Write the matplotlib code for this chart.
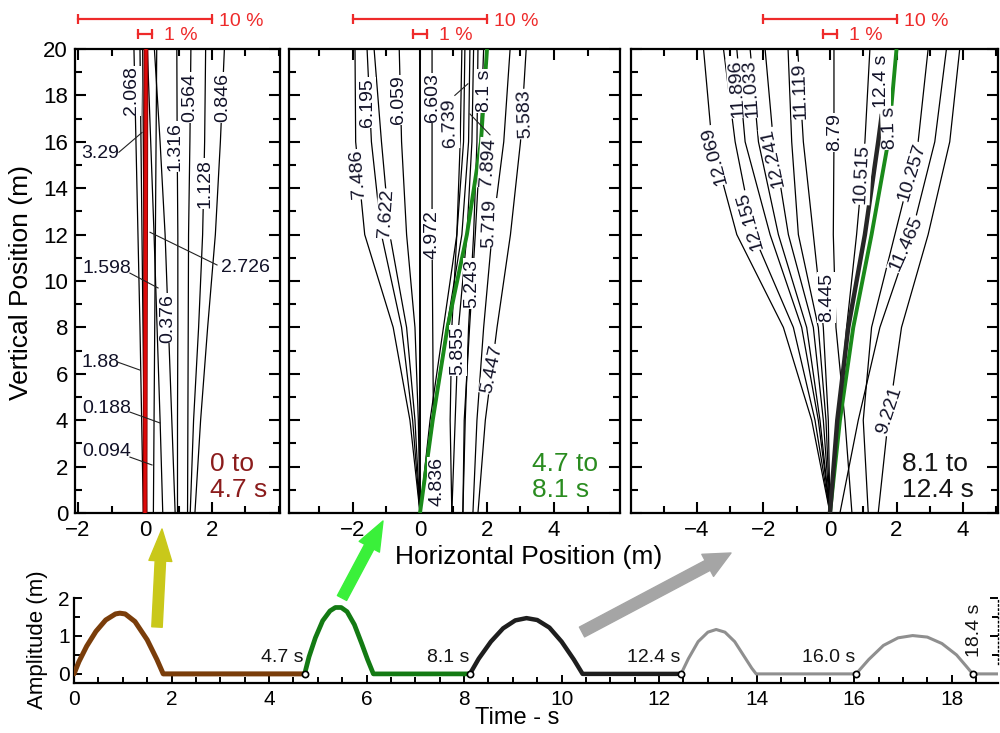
import matplotlib
matplotlib.use('Agg')
import matplotlib.pyplot as plt
from matplotlib.ticker import MultipleLocator, FixedLocator

plt.rcParams['font.family'] = ['Liberation Sans', 'DejaVu Sans']

# ---------------- data ----------------
Y_LEVELS = [0, 4, 8, 12, 16, 20]

# panel 1 (0 to 4.7 s): x positions of each trajectory at Y_LEVELS
p1_lines = [
    [-0.05, -0.10, -0.15, -0.21, -0.27, -0.33],
    [0.00, -0.03, -0.06, -0.09, -0.12, -0.15],
    [0.05, 0.03, 0.00, -0.03, -0.05, -0.07],
    [0.25, 0.27, 0.29, 0.31, 0.33, 0.35],
    [0.53, 0.45, 0.36, 0.27, 0.17, 0.07],
    [0.90, 0.80, 0.70, 0.60, 0.45, 0.28],
    [0.97, 0.97, 0.98, 0.98, 0.96, 0.95],
    [1.27, 1.28, 1.29, 1.30, 1.34, 1.37],
    [1.35, 1.45, 1.60, 1.72, 1.78, 1.81],
    [1.49, 1.66, 1.87, 2.10, 2.25, 2.37],
]
p1_red = [0.00, 0.006, 0.012, 0.018, 0.024, 0.03]
p1_labels = [("2.068", -0.40, 18.2, 90), ("1.316", 0.90, 15.8, 90),
             ("0.564", 1.34, 17.9, 90), ("1.128", 1.80, 14.2, 90),
             ("0.846", 2.33, 17.9, 90), ("0.376", 0.69, 8.4, 90),
             ("3.29", -1.34, 15.5, 0), ("2.726", 2.99, 10.6, 0),
             ("1.598", -1.13, 10.56, 0), ("1.88", -1.34, 6.5, 0),
             ("0.188", -1.13, 4.5, 0), ("0.094", -1.13, 2.63, 0)]
p1_leaders = [((-0.78, 15.55), (-0.09, 16.4)), ((0.15, 12.1), (2.15, 10.69)),
              ((-0.45, 10.34), (0.39, 9.7)), ((-0.81, 6.5), (-0.15, 6.16)),
              ((-0.45, 4.35), (0.45, 3.88)), ((-0.45, 2.41), (0.21, 2.07))]

# panel 2 (4.7 to 8.1 s)
p2_lines = [
    [0.00, -0.30, -0.80, -1.65, -1.92, -1.94],
    [0.00, -0.22, -0.55, -1.15, -1.45, -1.58],
    [0.00, -0.15, -0.40, -0.90, -1.15, -1.37],
    [0.00, -0.05, -0.15, -0.40, -0.55, -0.62],
    [0.00, 0.00, 0.00, 0.00, 0.00, 0.00],
    [0.00, 0.40, 0.38, 0.36, 0.36, 0.36],
    [0.95, 0.90, 0.95, 1.10, 1.20, 1.25],
    [0.00, 0.30, 0.70, 1.10, 1.30, 1.34],
    [0.00, 0.35, 0.80, 1.25, 1.45, 1.49],
    [1.28, 1.35, 1.45, 1.60, 1.70, 1.73],
    [1.58, 1.70, 1.90, 2.15, 2.50, 2.69],
    [1.28, 1.32, 1.48, 1.65, 1.80, 1.90],
    [1.73, 1.95, 2.30, 2.70, 3.00, 3.17],
    [0.95, 1.05, 1.15, 1.40, 1.55, 1.60],
]
p2_green = [0.00, 0.38, 0.82, 1.40, 1.82, 2.00]
p2_labels = [("6.195", -1.58, 17.7, 90), ("7.486", -1.86, 14.6, 94),
             ("7.622", -1.02, 12.9, 86), ("6.059", -0.64, 17.8, 90),
             ("6.603", 0.36, 17.9, 90), ("4.972", 0.36, 12.0, 90),
             ("6.739", 0.90, 16.8, 92), ("7.894", 2.03, 15.1, 86),
             ("5.719", 2.09, 12.5, 88), ("5.583", 3.13, 17.2, 92),
             ("5.243", 1.55, 9.9, 90), ("5.855", 1.13, 7.0, 90),
             ("5.447", 2.15, 6.2, 78), ("4.836", 0.50, 1.34, 90)]
p2_green_label = ("8.1 s", 1.94, 18.2, 90)
p2_leaders = [((1.04, 18.0), (1.43, 18.5)), ((2.09, 16.3), (1.49, 17.2))]

# panel 3 (8.1 to 12.4 s)
p3_lines = [
    [0.00, -0.55, -1.40, -2.80, -3.55, -3.80],
    [0.00, -0.45, -1.10, -2.30, -2.85, -3.20],
    [0.00, -0.35, -0.85, -1.80, -2.55, -2.80],
    [0.00, -0.30, -0.70, -1.55, -2.15, -2.40],
    [0.00, -0.20, -0.50, -1.25, -1.70, -1.95],
    [0.00, -0.12, -0.35, -0.95, -1.15, -1.26],
    [0.00, -0.05, -0.20, -0.50, -0.80, -0.97],
    [0.66, 0.45, 0.18, 0.10, 0.12, 0.12],
    [0.00, 0.25, 0.50, 0.80, 1.05, 1.20],
    [1.15, 1.00, 1.25, 1.95, 2.65, 2.95],
    [0.30, 0.85, 1.50, 2.45, 3.15, 3.50],
    [1.45, 1.75, 2.15, 2.95, 3.60, 3.90],
]
p3_black_y = [0, 4, 8, 12, 16, 17.2]
p3_black = [0.00, 0.22, 0.55, 1.05, 1.45, 1.56]
p3_green = [0.00, 0.30, 0.70, 1.25, 1.75, 2.00]
p3_labels = [("12.069", -3.48, 15.4, 105), ("11.896", -2.80, 18.3, 94),
             ("11.033", -2.37, 18.3, 94), ("12.155", -2.40, 12.6, 106),
             ("12.241", -1.71, 15.3, 102), ("11.119", -0.90, 18.2, 92),
             ("8.79", 0.15, 16.4, 90), ("10.515", 0.96, 14.6, 87),
             ("12.4 s", 1.56, 18.6, 90), ("10.257", 2.46, 14.7, 73),
             ("11.465", 2.30, 11.6, 66), ("8.445", -0.10, 9.3, 90),
             ("9.221", 1.80, 4.4, 72)]
p3_green_label = ("8.1 s", 1.80, 16.6, 92)

# scale bars (m)
bar_10 = [-2.0, 2.0]
bar_1 = [-0.2, 0.2]

# bottom panel: amplitude vs time
brown_t = [0.0, 0.1, 0.26, 0.45, 0.65, 0.85, 0.94, 1.05, 1.25, 1.5, 1.7, 1.83, 4.73]
brown_a = [0.0, 0.32, 0.73, 1.12, 1.42, 1.58, 1.6, 1.58, 1.38, 0.9, 0.38, 0.0, 0.0]
green_t = [4.73, 4.82, 4.95, 5.1, 5.25, 5.36, 5.48, 5.6, 5.75, 5.9, 6.02, 6.14, 8.12]
green_a = [0.0, 0.45, 0.95, 1.4, 1.66, 1.75, 1.75, 1.64, 1.3, 0.8, 0.38, 0.0, 0.0]
black_t = [8.12, 8.3, 8.55, 8.8, 9.05, 9.28, 9.5, 9.75, 10.0, 10.25, 10.43, 12.45]
black_a = [0.0, 0.4, 0.85, 1.2, 1.41, 1.47, 1.42, 1.22, 0.85, 0.38, 0.0, 0.0]
gray1_t = [12.45, 12.6, 12.8, 13.0, 13.17, 13.35, 13.55, 13.75, 13.9, 13.99, 16.04]
gray1_a = [0.0, 0.4, 0.85, 1.1, 1.17, 1.1, 0.85, 0.45, 0.15, 0.0, 0.0]
gray2_t = [16.04, 16.3, 16.6, 16.9, 17.2, 17.5, 17.8, 18.1, 18.3, 18.43, 18.95]
gray2_a = [0.0, 0.38, 0.75, 0.95, 1.01, 0.97, 0.8, 0.5, 0.2, 0.0, 0.0]
mark_t = [4.73, 8.12, 12.45, 16.04, 18.43]
mark_labels = ["4.7 s", "8.1 s", "12.4 s", "16.0 s", "18.4 s"]

# ---------------- figure ----------------
RED = '#ee2a2a'
LBL = '#121228'
fig = plt.figure(figsize=(10, 7.33), dpi=100)
W, H = 1000.0, 733.0

def axes_px(x0, x1, y0, y1):
    return fig.add_axes([x0 / W, 1 - y1 / H, (x1 - x0) / W, (y1 - y0) / H])

ax1 = axes_px(75, 280, 49, 513)
ax2 = axes_px(289, 620, 49, 513)
ax3 = axes_px(631, 998, 49, 513)
axb = axes_px(74, 998, 598, 683)

def style_top(ax, xlim, xmajor, show_y):
    ax.set_xlim(*xlim)
    ax.set_ylim(0, 20)
    ax.xaxis.set_major_locator(FixedLocator(xmajor))
    ax.xaxis.set_minor_locator(MultipleLocator(1))
    ax.yaxis.set_major_locator(MultipleLocator(2))
    ax.yaxis.set_minor_locator(MultipleLocator(1))
    ax.tick_params(which='both', direction='in', top=True, right=True,
                   width=1.5, labelsize=16, pad=5)
    ax.tick_params(which='major', length=8)
    ax.tick_params(which='minor', length=5)
    if not show_y:
        ax.tick_params(labelleft=False)
    for s in ax.spines.values():
        s.set_linewidth(1.6)

style_top(ax1, (-2.09, 4.03), [-2, 0, 2], True)
style_top(ax2, (-3.91, 5.97), [-2, 0, 2, 4], False)
style_top(ax3, (-5.98, 5.05), [-4, -2, 0, 2, 4], False)

def put_labels(ax, labels, z=5):
    for s, x, y, r in labels:
        ax.text(x, y, s, rotation=r, rotation_mode='anchor', ha='center',
                va='center', fontsize=14, color=LBL, zorder=z,
                bbox=dict(boxstyle='square,pad=0.04', fc='white', ec='none'))

def put_leaders(ax, leaders):
    for (xa, ya), (xb, yb) in leaders:
        ax.plot([xa, xb], [ya, yb], color='#222222', lw=0.8, zorder=6)

# panel 1
for xs in p1_lines:
    ax1.plot(xs, Y_LEVELS, color='black', lw=0.9, zorder=2)
ax1.plot(p1_red, Y_LEVELS, color='#7a0000', lw=3.4, zorder=4,
         solid_capstyle='butt')
ax1.plot(p1_red, Y_LEVELS, color='#dd0a0a', lw=2.2, zorder=4,
         solid_capstyle='butt')
put_labels(ax1, p1_labels)
put_leaders(ax1, p1_leaders)
ax1.text(1.94, 1.55, "0 to\n4.7 s", color='#8b1c1c', fontsize=19,
         ha='left', va='center', linespacing=1.15, zorder=7)

# panel 2
for i, xs in enumerate(p2_lines):
    ax2.plot(xs, Y_LEVELS, color='black', lw=1.4 if i == 4 else 0.9, zorder=2)
ax2.plot(p2_green, Y_LEVELS, color='#1a8a1a', lw=2.8, zorder=4,
         solid_capstyle='butt')
put_labels(ax2, p2_labels + [p2_green_label])
put_leaders(ax2, p2_leaders)
ax2.text(3.34, 1.55, "4.7 to\n8.1 s", color='#2a8c20', fontsize=19,
         ha='left', va='center', linespacing=1.15, zorder=7)

# panel 3
for xs in p3_lines:
    ax3.plot(xs, Y_LEVELS, color='black', lw=0.9, zorder=2)
ax3.plot(p3_green, Y_LEVELS, color='#1a8a1a', lw=2.8, zorder=4,
         solid_capstyle='butt')
ax3.plot(p3_black, p3_black_y, color='#262626', lw=3.2, zorder=4,
         solid_capstyle='butt')
put_labels(ax3, p3_labels + [p3_green_label])
ax3.text(2.16, 1.55, "8.1 to\n12.4 s", color='#151515', fontsize=19,
         ha='left', va='center', linespacing=1.15, zorder=7)

# scale bars above each panel
for ax in (ax1, ax2, ax3):
    ax.plot(bar_10, [21.28, 21.28], color=RED, lw=1.6, clip_on=False,
            marker='|', ms=7, mew=1.6)
    ax.plot(bar_1, [20.63, 20.63], color=RED, lw=1.6, clip_on=False,
            marker='|', ms=7, mew=1.6)
    ax.text(bar_10[1] + 0.21, 21.2, "10 %", color=RED, fontsize=14,
            ha='left', va='center', clip_on=False)
    ax.text(bar_1[1] + 0.36, 20.57, "1 %", color=RED, fontsize=14,
            ha='left', va='center', clip_on=False)

# bottom panel
axb.set_xlim(0, 18.95)
axb.set_ylim(-0.24, 2.0)
axb.plot(brown_t, brown_a, color='#7a3d0a', lw=3.6, zorder=3,
         solid_capstyle='round', solid_joinstyle='round')
axb.plot(green_t, green_a, color='#137a13', lw=3.4, zorder=3,
         solid_capstyle='round', solid_joinstyle='round')
axb.plot(black_t, black_a, color='#1e1e1e', lw=3.2, zorder=3,
         solid_capstyle='round', solid_joinstyle='round')
axb.plot(gray1_t, gray1_a, color='#8f8f8f', lw=2.2, zorder=3,
         solid_joinstyle='round')
axb.plot(gray2_t, gray2_a, color='#8f8f8f', lw=2.2, zorder=3,
         solid_joinstyle='round')
axb.plot(mark_t, [0] * len(mark_t), ls='none', marker='o', ms=4.5,
         mfc='white', mec='black', mew=1.2, zorder=5, clip_on=False)
for t, s in zip(mark_t[:-1], mark_labels[:-1]):
    axb.text(t - 0.02, 0.43, s, ha='right', va='center', fontsize=14,
             color='#141414')
axb.text(mark_t[-1] + 0.03, 1.16, mark_labels[-1], rotation=90, ha='center',
         va='center', fontsize=14, color='#141414')

axb.spines['top'].set_visible(False)
axb.spines['right'].set_bounds(0.25, 2.0)
axb.spines['right'].set_linestyle((0, (1, 2)))
axb.spines['right'].set_linewidth(1.0)
for s in ('left', 'bottom'):
    axb.spines[s].set_linewidth(1.6)
axb.spines['left'].set_bounds(-0.24, 2.0)
axb.xaxis.set_major_locator(MultipleLocator(2))
axb.xaxis.set_minor_locator(MultipleLocator(0.5))
axb.yaxis.set_major_locator(MultipleLocator(1))
axb.yaxis.set_minor_locator(MultipleLocator(0.5))
axb.tick_params(which='both', direction='in', width=1.4, labelsize=15)
axb.tick_params(axis='x', which='major', length=6, pad=5)
axb.tick_params(axis='x', which='minor', length=4)
axb.tick_params(axis='y', which='major', length=6, pad=3)
axb.tick_params(axis='y', which='minor', length=4)
axb.tick_params(axis='y', which='both', right=True)

# arrows (figure pixel coordinates, origin bottom-left)
def arrow(tail, head, color, hw, hl, tw):
    axb.annotate('', xy=(head[0], H - head[1]), xytext=(tail[0], H - tail[1]),
                 xycoords='figure pixels', textcoords='figure pixels',
                 annotation_clip=False,
                 arrowprops=dict(arrowstyle='simple,head_width=%g,head_length=%g,tail_width=%g' % (hw, hl, tw),
                                 color=color, mutation_scale=10,
                                 shrinkA=0, shrinkB=0))

arrow((157, 627), (162, 529), '#c9c81a', 1.65, 2.3, 0.75)
arrow((342, 598), (383, 521), '#3af03a', 1.65, 2.1, 0.75)
arrow((582, 632), (731, 553), '#a5a5a5', 1.8, 1.9, 0.8)

# axis labels
fig.text(21 / W, 1 - 282 / H, "Vertical Position (m)", rotation=90,
         ha='center', va='center', fontsize=19)
fig.text(529 / W, 1 - 557 / H, "Horizontal Position (m)", ha='center',
         va='center', fontsize=19)
fig.text(37 / W, 1 - 640 / H, "Amplitude (m)", rotation=90, ha='center',
         va='center', fontsize=16)
fig.text(517 / W, 1 - 718 / H, "Time - s", ha='center', va='center',
         fontsize=17)

fig.savefig('out.png', dpi=100)
